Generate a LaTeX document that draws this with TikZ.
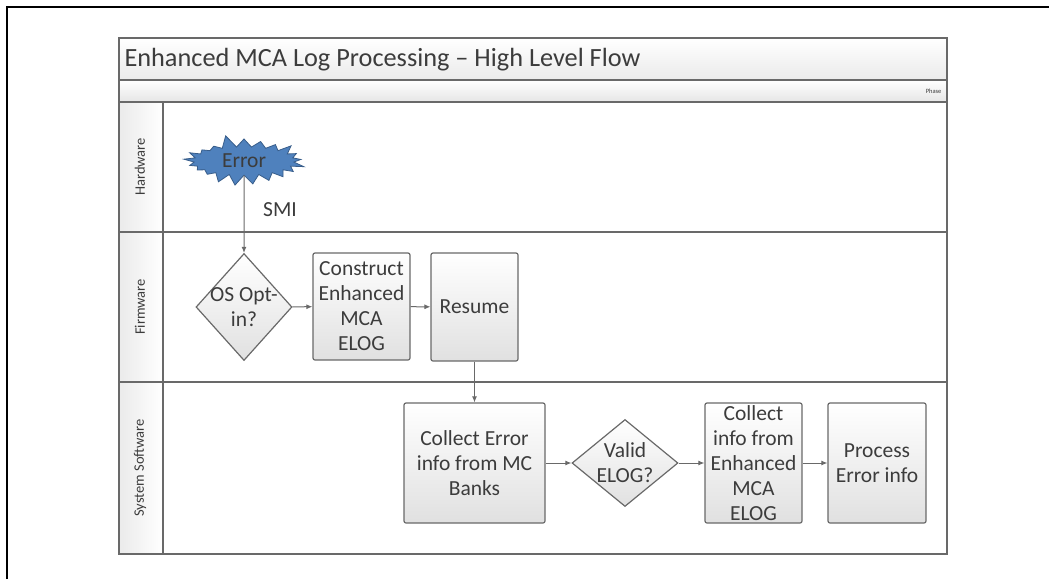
\documentclass[tikz,border=0pt]{standalone}
\usepackage{fontspec}
\setmainfont{Carlito}
\usetikzlibrary{shapes.geometric,shapes.symbols,arrows.meta}
\definecolor{linegray}{RGB}{105,105,105}
\definecolor{txtgray}{RGB}{60,60,60}
\definecolor{errblue}{RGB}{79,129,189}
\definecolor{errborder}{RGB}{56,93,138}
\tikzset{
  box/.style={draw=linegray,line width=1.2pt,rounded corners=2pt,
    top color=white,bottom color=black!12,text=txtgray,align=center,
    font=\fontsize{21.5}{25}\selectfont,inner sep=0pt},
  decision/.style={diamond,draw=linegray,line width=1.2pt,
    top color=white,bottom color=black!12,text=txtgray,align=center,
    font=\fontsize{21.5}{25}\selectfont,inner sep=-16pt},
  lanelbl/.style={rotate=90,font=\fontsize{14.5}{16}\selectfont,text=txtgray},
  flow/.style={-{Latex[length=6pt,width=5pt]},line width=1pt,draw=linegray},
  poolline/.style={draw=linegray,line width=1.3pt},
}
\begin{document}
\begin{tikzpicture}[x=1pt,y=-1pt]
  \useasboundingbox (0,0) rectangle (1049,579);
  % outer frame
  \draw[line width=2.5pt] (7,579) -- (7,7) -- (1049,7);
  % pool with its bars and lanes
  \shade[top color=white,bottom color=black!8] (119,38) rectangle (947,80);
  \shade[top color=white,bottom color=black!10] (119,80) rectangle (947,102);
  \shade[left color=black!8,right color=white] (119,102) rectangle (163,554);
  \draw[poolline] (119,38) rectangle (947,554);
  \draw[poolline] (119,80) -- (947,80);
  \draw[poolline] (119,102) -- (947,102);
  \draw[poolline] (119,232) -- (947,232);
  \draw[poolline] (119,382) -- (947,382);
  \draw[poolline] (163,102) -- (163,554);
  \node[anchor=west,font=\fontsize{26.3}{30}\selectfont,text=txtgray] (title) at (121,60)
    {Enhanced MCA Log Processing – High Level Flow};
  \node[anchor=east,font=\fontsize{6.5}{7}\selectfont,text=txtgray] (phase) at (945,91) {Phase};
  \node[lanelbl] (hw) at (140,167) {Hardware};
  \node[lanelbl] (fw) at (140,307) {Firmware};
  \node[lanelbl] (sw) at (140,468) {System Software};
  % hardware
  \node[starburst,starburst points=21,starburst point height=13pt,random starburst=5,
    minimum width=126pt,inner xsep=0pt,inner ysep=3pt,fill=errblue,draw=errborder,
    line width=0.8pt,font=\fontsize{21.5}{25}\selectfont,text=txtgray] (err) at (244,161) {Error};
  \node[font=\fontsize{21.5}{25}\selectfont,text=txtgray] (smi) at (280,210) {SMI};
  % firmware
  \node[decision,minimum width=96pt,minimum height=107pt] (optin) at (244,307) {OS Opt-\\in?};
  \node[box,minimum width=97pt,minimum height=107pt] (construct) at (361.5,306.5)
    {Construct\\Enhanced\\MCA\\ELOG};
  \node[box,minimum width=87pt,minimum height=108pt] (resume) at (474.5,307) {Resume};
  % system software
  \node[box,minimum width=141pt,minimum height=120pt] (collect) at (474.5,463)
    {Collect Error\\info from MC\\Banks};
  \node[decision,minimum width=106pt,minimum height=87pt] (valid) at (625,463) {Valid\\ELOG?};
  \node[box,minimum width=97pt,minimum height=120pt] (collectelog) at (753.5,463)
    {Collect\\info from\\Enhanced\\MCA\\ELOG};
  \node[box,minimum width=98pt,minimum height=120pt] (process) at (877,463)
    {Process\\Error info};
  % flow
  \draw[flow] (err.south) -- (optin.north);
  \draw[flow] (optin) -- (construct);
  \draw[flow] (construct) -- (resume);
  \draw[flow] (resume) -- (collect);
  \draw[flow] (collect) -- (valid);
  \draw[flow] (valid) -- (collectelog);
  \draw[flow] (collectelog) -- (process);
\end{tikzpicture}
\end{document}
